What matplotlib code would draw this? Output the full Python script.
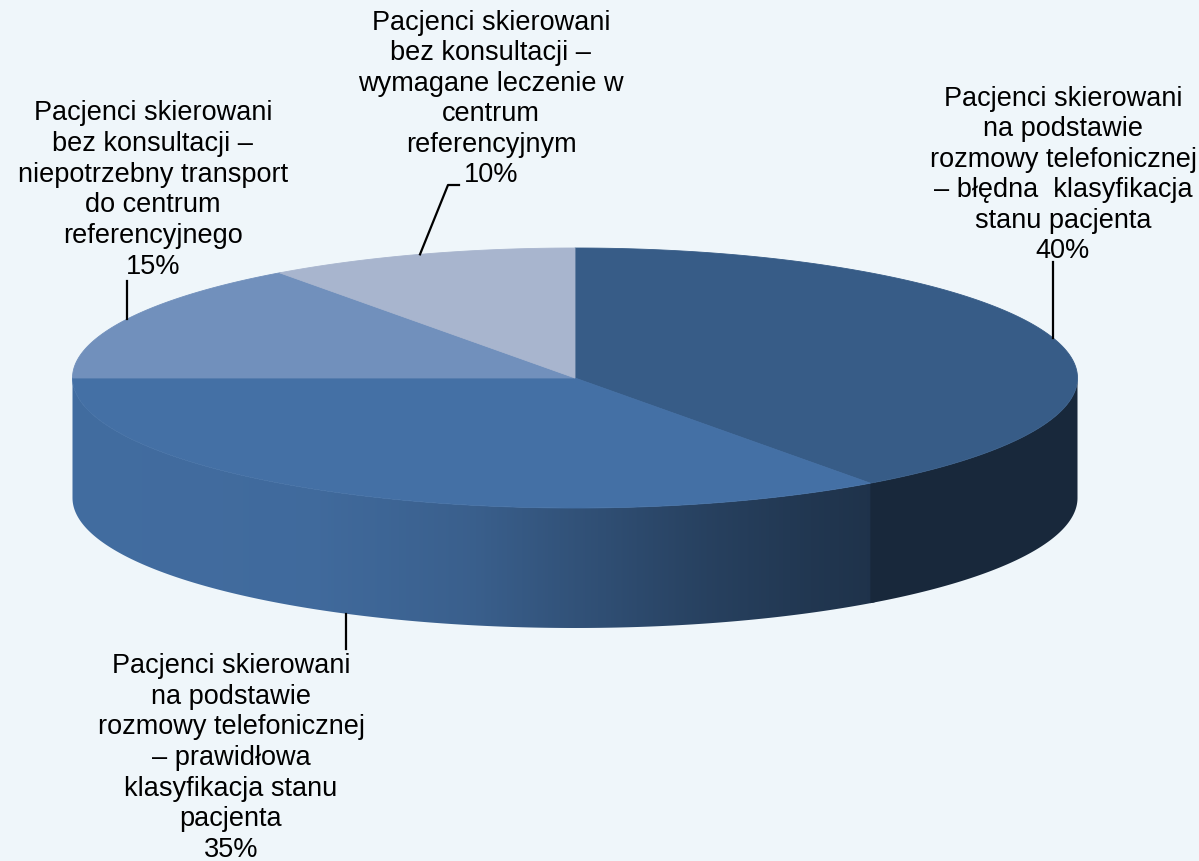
import numpy as np
import matplotlib
matplotlib.use("Agg")
import matplotlib.pyplot as plt
from matplotlib.patches import Polygon
from matplotlib.colors import to_rgb

# --- data -------------------------------------------------------------
categories = [
    "Pacjenci skierowani\nna podstawie\nrozmowy telefonicznej\n– błędna  klasyfikacja\nstanu pacjenta",
    "Pacjenci skierowani\nna podstawie\nrozmowy telefonicznej\n– prawidłowa\nklasyfikacja stanu\npacjenta",
    "Pacjenci skierowani\nbez konsultacji –\nniepotrzebny transport\ndo centrum\nreferencyjnego",
    "Pacjenci skierowani\nbez konsultacji –\nwymagane leczenie w\ncentrum\nreferencyjnym",
]
shares = [40, 35, 15, 10]

# --- style ------------------------------------------------------------
BG = "#EFF6FA"
top_colors = ["#375C87", "#4470A5", "#7190BC", "#A8B5CE"]
FONT = ["Liberation Sans", "DejaVu Sans"]

# pie geometry in pixel units
CX, CY = 575.0, 379.0
RX, RY = 502.5, 130.0
DEPTH = 120.0

fig = plt.figure(figsize=(11.99, 8.62), dpi=100, facecolor=BG)
ax = fig.add_axes([0, 0, 1, 1])
ax.set_xlim(0, 1199)
ax.set_ylim(862, 0)
ax.axis("off")
ax.set_facecolor(BG)


def ell(theta_deg, dy=0.0):
    t = np.radians(theta_deg)
    return CX + RX * np.cos(t), CY - RY * np.sin(t) + dy


def edge_y(x, lower=False):
    s = np.sqrt(max(0.0, 1 - ((x - CX) / RX) ** 2))
    return CY + DEPTH + RY * s if lower else CY - RY * s


# slice angles: start at 12 o'clock, run clockwise
total = float(sum(shares))
bounds = 90 - 360 * np.concatenate([[0], np.cumsum(shares)]) / total
spans = [(bounds[i], bounds[i + 1]) for i in range(len(shares))]

# side shading: brightness factor along x for each visible side
shade_profiles = {
    0: ([0.0, 1.0], [0.44, 0.44]),
    1: ([0.0, 0.3, 0.5, 0.66, 0.79, 0.92, 1.0],
        [0.97, 0.95, 0.85, 0.70, 0.58, 0.49, 0.45]),
}

# --- side walls (front half only), drawn back to front -------------
for i in reversed(range(len(spans))):
    a0, a1 = spans[i]
    seg_hi = min(a0, 0.0)
    seg_lo = max(a1, -180.0)
    if seg_hi <= seg_lo:
        continue
    stops, facs = shade_profiles.get(i, ([0, 1], [0.5, 0.5]))
    # slight overlap into the neighbouring wall hides the seam
    ext_hi = seg_hi + (0.6 if seg_hi < 0 else 0.0)
    th = np.linspace(ext_hi, seg_lo, 200)
    xt, yt = ell(th)
    xb, yb = ell(th[::-1], DEPTH)
    verts = np.column_stack([np.concatenate([xt, xb]), np.concatenate([yt, yb])])
    poly = Polygon(verts, closed=True, facecolor="none", edgecolor="none")
    ax.add_patch(poly)
    x0, x1 = verts[:, 0].min(), verts[:, 0].max()
    y0, y1 = verts[:, 1].min(), verts[:, 1].max()
    n = 400
    f = np.interp(np.linspace(0, 1, n), stops, facs)
    base = np.array(to_rgb(top_colors[i]))
    img = np.clip(f[:, None] * base[None, :], 0, 1)[None, :, :]
    im = ax.imshow(img, extent=(x0 - 1, x1 + 1, y1 + 1, y0 - 1), aspect="auto",
                   interpolation="bilinear", zorder=1)
    im.set_clip_path(poly)

# --- top faces -------------------------------------------------------
for i, (a0, a1) in enumerate(spans):
    th = np.linspace(a0, a1, 300)
    xs, ys = ell(th)
    verts = np.column_stack([np.concatenate([[CX], xs]), np.concatenate([[CY], ys])])
    ax.add_patch(Polygon(verts, closed=True, facecolor=top_colors[i],
                         edgecolor=top_colors[i], linewidth=0.6, zorder=2))

# --- labels and leader lines ----------------------------------------
label_pos = [(1063, 175), (231, 758), (153, 190), (491, 99)]
for i, (lab, sh) in enumerate(zip(categories, shares)):
    x, y = label_pos[i]
    ax.text(x, y, f"{lab}\n{sh}%", ha="center", va="center", multialignment="center",
            fontsize=19.5, family=FONT, color="black", linespacing=1.23, zorder=5)

lw = 1.6
ax.plot([1053, 1053], [edge_y(1053), 263], color="black", lw=lw, zorder=4)
ax.plot([346, 346], [edge_y(346, lower=True), 650], color="black", lw=lw, zorder=4)
ax.plot([127, 127], [edge_y(127), 282], color="black", lw=lw, zorder=4)
ax.plot([420, 448, 459], [edge_y(420), 186, 186], color="black", lw=lw, zorder=4)

fig.savefig("out.png", dpi=100, facecolor=BG)
